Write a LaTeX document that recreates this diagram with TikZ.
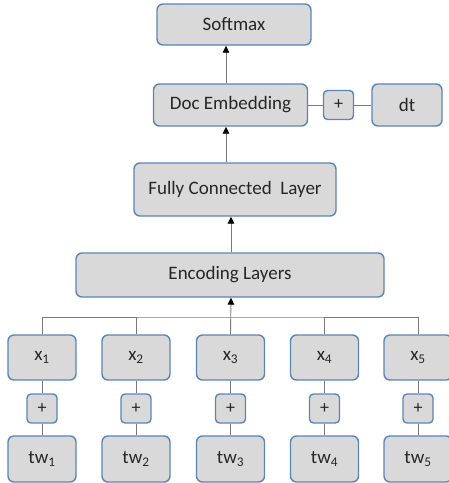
\documentclass[tikz,border=0pt]{standalone}
\usepackage{fontspec}
\setmainfont{Carlito}
\usetikzlibrary{arrows.meta}
\definecolor{boxfill}{HTML}{D9D9D9}
\definecolor{boxline}{HTML}{5A86B6}
\definecolor{wire}{HTML}{7A7A7A}
\tikzset{
  box/.style={draw=boxline, fill=boxfill, line width=1.4pt, rounded corners=6pt,
    inner sep=0pt, text=black!85, font=\fontsize{19}{22}\selectfont},
  plusbox/.style={box, minimum width=30, minimum height=29, rounded corners=4pt,
    font=\fontsize{18}{20}\selectfont},
  wordbox/.style={box, minimum width=68, minimum height=45},
  conn/.style={draw=wire, line width=0.9pt},
  arr/.style={conn, -{Triangle[length=7pt, width=6.5pt, fill=black, color=black]}}
}
\begin{document}
\begin{tikzpicture}[x=1pt, y=-1pt]
    \useasboundingbox (0,0) rectangle (449,483);
    % top part
    \node[box, minimum width=154, minimum height=41] (soft) at (234,24.5) {Softmax};
    \node[box, minimum width=154, minimum height=42] (doc) at (230.5,105) {Doc Embedding};
    \node[plusbox] (dplus) at (338.5,105) {+};
    \node[box, minimum width=70, minimum height=42] (dt) at (407,105) {dt};
    \node[box, minimum width=202, minimum height=53] (fc) at (235,189.5) {Fully Connected\ \ Layer};
    \node[box, minimum width=308, minimum height=44] (enc) at (230,275) {Encoding Layers};
    \coordinate (bus) at (231,317);
    \draw[arr] ([xshift=-4.5pt]doc.north) -- ([xshift=-4.5pt]doc.north |- soft.south);
    \draw[arr] ([xshift=-4.5pt]doc.north |- fc.north) -- ([xshift=-4.5pt]doc.south);
    \draw[arr] (bus |- enc.north) -- (bus |- fc.south);
    \draw[conn] (doc.east) -- (dplus.west);
    \draw[conn] (dplus.east) -- (dt.west);
    % word inputs
    \foreach \i/\x in {1/42,2/136,3/230.5,4/324.5,5/418} {
        \node[wordbox] (x\i) at (\x,357.5) {x\textsubscript{\i}};
        \node[plusbox] (p\i) at (\x,408.5) {+};
        \node[wordbox, minimum height=46] (tw\i) at (\x,459) {tw\textsubscript{\i}};
        \draw[conn] (x\i.south) -- (p\i.north);
        \draw[conn] (p\i.south) -- (tw\i.north);
    }
    \draw[conn] (x1.north) |- (bus) -| (x5.north);
    \foreach \i in {2,4} \draw[conn] (x\i.north) -- (x\i.north |- bus);
    \draw[arr] (x3.north) -- (bus |- enc.south);
\end{tikzpicture}
\end{document}
